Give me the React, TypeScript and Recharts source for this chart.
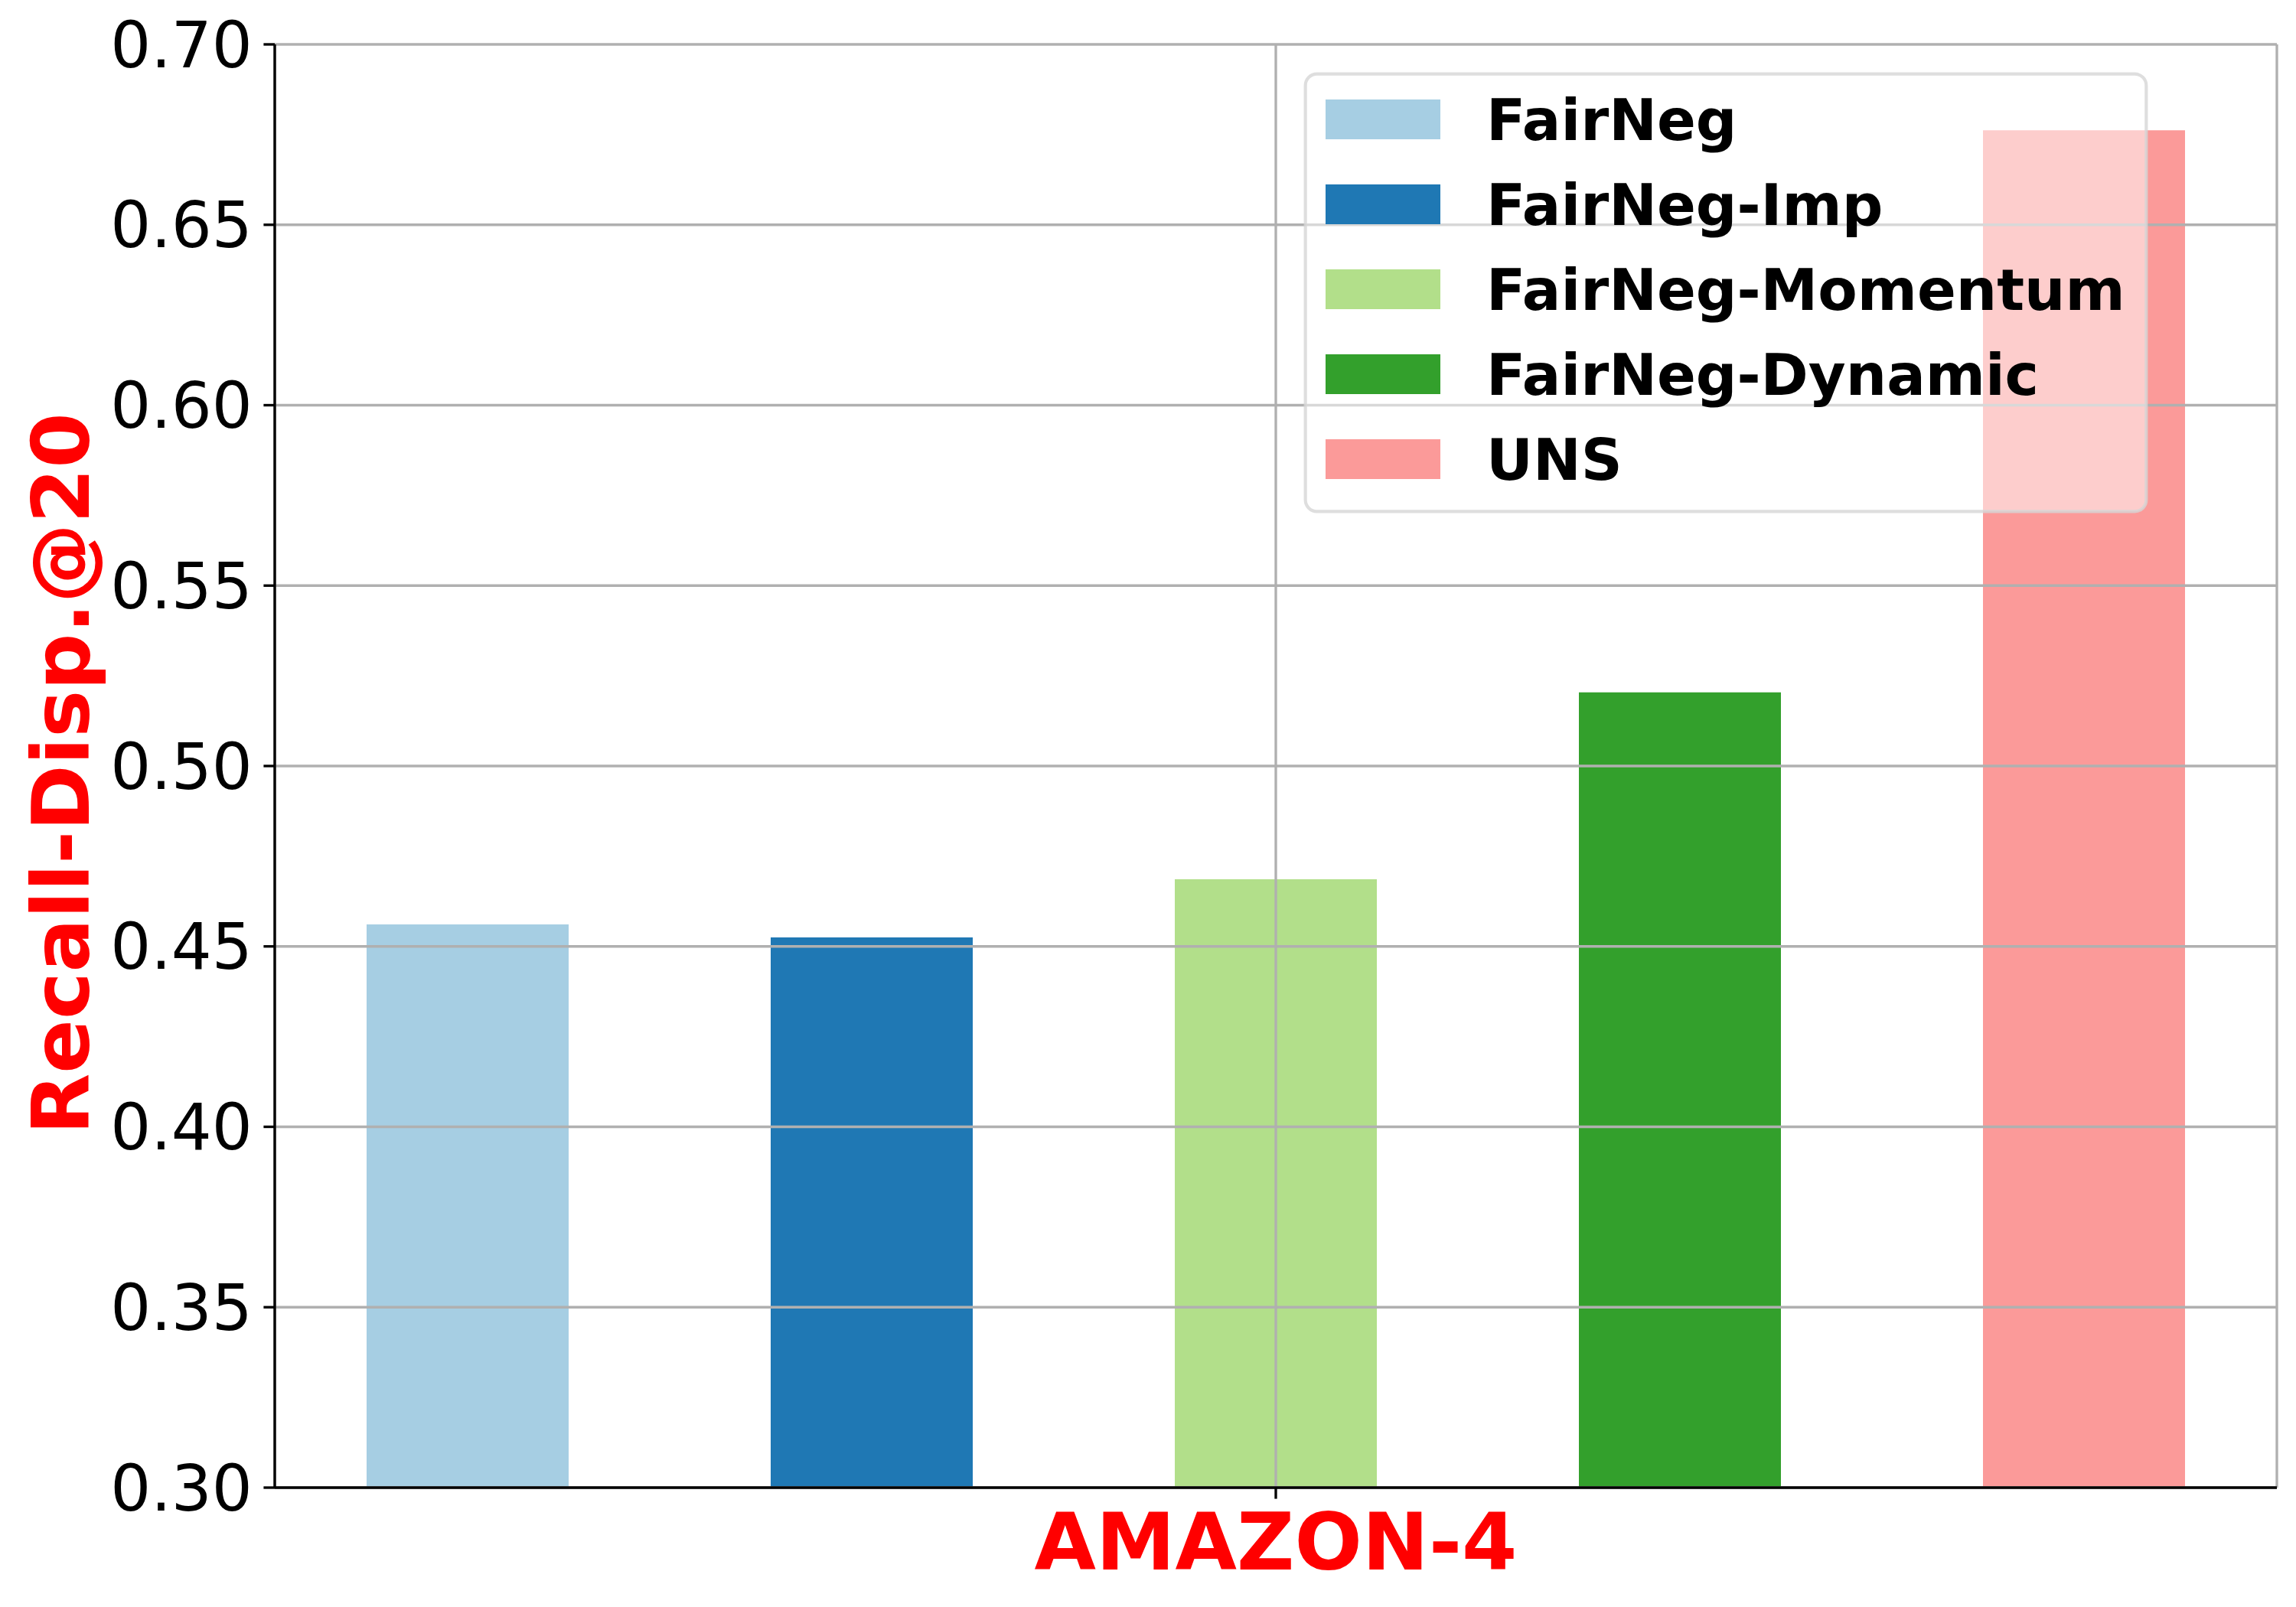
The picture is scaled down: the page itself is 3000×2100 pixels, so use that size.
import React from 'react';
import { BarChart, Bar, XAxis, YAxis, CartesianGrid, Legend } from 'recharts';

const CATEGORIES = ['AMAZON-4'];
const SERIES_NAMES = ['FairNeg', 'FairNeg-Imp', 'FairNeg-Momentum', 'FairNeg-Dynamic', 'UNS'];
const SERIES_COLORS = ['#a6cee3', '#1f78b4', '#b2df8a', '#33a02c', '#fb9a99'];
const FAIRNEG = [0.4561];
const FAIRNEG_IMP = [0.4525];
const FAIRNEG_MOMENTUM = [0.4686];
const FAIRNEG_DYNAMIC = [0.5204];
const UNS = [0.6762];
const Y_TICKS = [0.3, 0.35, 0.4, 0.45, 0.5, 0.55, 0.6, 0.65, 0.7];
const Y_LABEL = 'Recall-Disp.@20';

const SERIES_VALUES = [FAIRNEG, FAIRNEG_IMP, FAIRNEG_MOMENTUM, FAIRNEG_DYNAMIC, UNS];

const data = CATEGORIES.map((name, i) => {
  const row: Record<string, any> = { name };
  SERIES_NAMES.forEach((s, k) => {
    row[s] = SERIES_VALUES[k][i];
  });
  return row;
});

const FONT = 'DejaVu Sans';
const LW = 3.33;

const LegendBox = () => {
  const w = 1104;
  const h = 577;
  return (
    <svg width={w} height={h} style={{ display: 'block', overflow: 'visible' }}>
      <rect
        x={LW / 2 + 1}
        y={LW / 2 + 1}
        width={w - LW - 2}
        height={h - LW - 2}
        rx={15}
        ry={15}
        fill="#ffffff"
        fillOpacity={0.5}
        stroke="#d6d6d6"
        strokeOpacity={0.8}
        strokeWidth={4.17}
      />
      {SERIES_NAMES.map((name, i) => (
        <g key={name}>
          <rect x={29} y={36 + i * 111} width={150} height={52} fill={SERIES_COLORS[i]} />
          <text
            x={239}
            y={89 + i * 111}
            fontFamily={FONT}
            fontWeight="bold"
            fontSize={75}
            fill="#000"
          >
            {name}
          </text>
        </g>
      ))}
    </svg>
  );
};

const YLabel = (props: any) => {
  const vb = props.viewBox || { x: 0, y: 58, width: 359, height: 1886 };
  const x = vb.x + 116;
  const y = vb.y + vb.height / 2 + 10;
  return (
    <text
      x={x}
      y={y}
      transform={`rotate(-90 ${x} ${y})`}
      textAnchor="middle"
      fontFamily={FONT}
      fontWeight="bold"
      fontSize={104}
      fill="#ff0000"
    >
      {Y_LABEL}
    </text>
  );
};

export default function App() {
  return (
    <div style={{ position: 'absolute', left: 0, top: 0, width: 3000, height: 2100, background: '#fff', fontFamily: FONT }}>
      <BarChart
        width={3000}
        height={2100}
        data={data}
        margin={{ top: 58, right: 25, left: 0, bottom: 0 }}
        barSize={264}
        barGap={264}
      >
        {SERIES_NAMES.map((s, k) => (
          <Bar key={s} dataKey={s} name={s} fill={SERIES_COLORS[k]} isAnimationActive={false} />
        ))}
        <CartesianGrid
          stroke="#b0b0b0"
          strokeWidth={LW}
          horizontal={true}
          vertical={true}
          zIndex={450}
        />
        <XAxis
          dataKey="name"
          height={156}
          interval={0}
          tickSize={14.6}
          tickMargin={19}
          tick={{ fill: '#ff0000', fontSize: 104, fontWeight: 'bold', fontFamily: FONT }}
          tickLine={{ stroke: '#000', strokeWidth: LW }}
          axisLine={{ stroke: '#000', strokeWidth: LW }}
        />
        <XAxis
          xAxisId="top"
          dataKey="name"
          orientation="top"
          height={0}
          tick={false}
          tickLine={false}
          axisLine={{ stroke: '#000', strokeWidth: LW }}
        />
        <YAxis
          width={359}
          type="number"
          domain={[0.3, 0.7]}
          ticks={Y_TICKS}
          interval={0}
          allowDataOverflow
          tickFormatter={(v: number) => v.toFixed(2)}
          tickSize={14.6}
          tickMargin={14.6}
          tick={{ fill: '#000', fontSize: 83.3, fontFamily: FONT }}
          tickLine={{ stroke: '#000', strokeWidth: LW }}
          axisLine={{ stroke: '#000', strokeWidth: LW }}
          label={{ content: (p: any) => <YLabel {...p} /> }}
        />
        <YAxis
          yAxisId="right"
          orientation="right"
          width={0}
          type="number"
          domain={[0.3, 0.7]}
          tick={false}
          tickLine={false}
          axisLine={{ stroke: '#000', strokeWidth: LW }}
        />
        <Legend
          layout="vertical"
          align="center"
          verticalAlign="middle"
          wrapperStyle={{ left: 1703, top: 94, width: 1104, height: 577 }}
          content={() => <LegendBox />}
        />
      </BarChart>
    </div>
  );
}
